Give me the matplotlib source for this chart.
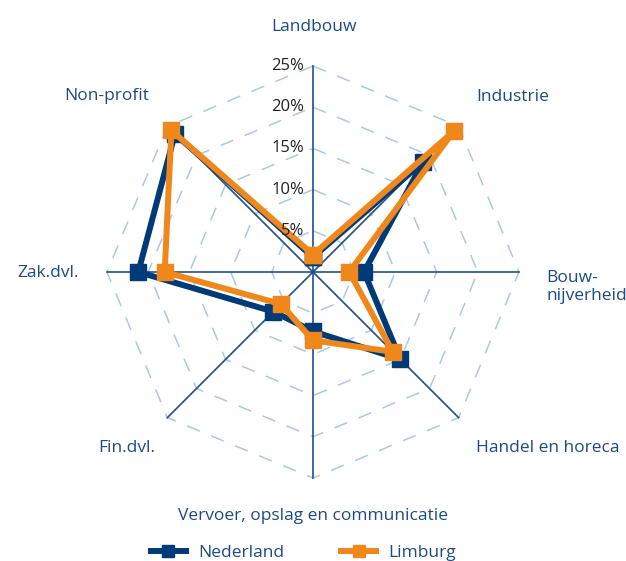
import numpy as np
import matplotlib.pyplot as plt
from matplotlib.lines import Line2D

# data: share per sector (%), clockwise from top
sectors = ['Landbouw', 'Industrie', 'Bouw-\nnijverheid', 'Handel en horeca',
           'Vervoer, opslag en communicatie', 'Fin.dvl.', 'Zak.dvl.', 'Non-profit']
nederland = [1.8, 18.9, 6.2, 15.0, 7.2, 6.8, 21.2, 23.7]
limburg = [2.1, 24.2, 4.4, 13.7, 8.3, 5.5, 18.0, 24.3]
rings = [5, 10, 15, 20, 25]
ring_labels = ['5%', '10%', '15%', '20%', '25%']

W, H = 626, 561
NL_COLOR = '#003a78'
LI_COLOR = '#f0871a'
AXIS_COLOR = '#1f4f8c'
GRID_COLOR = '#a9c9ea'
TEXT_COLOR = '#1d4a85'

plt.rcParams['font.family'] = ['Open Sans', 'DejaVu Sans']

fig = plt.figure(figsize=(W / 100, H / 100), dpi=100)
cx, cy, R = 313, 272, 206  # centre and outer radius in pixels
ax = fig.add_axes([(cx - R) / W, (H - cy - R) / H, 2 * R / W, 2 * R / H], projection='polar')
ax.set_theta_zero_location('N')
ax.set_theta_direction(-1)
ax.set_ylim(0, 25)
ax.axis('off')

n = len(sectors)
theta = np.arange(n) * 2 * np.pi / n
theta_c = np.append(theta, theta[0])

for r in rings:  # dashed octagons
    ax.plot(theta_c, [r] * (n + 1), color=GRID_COLOR, lw=1.1, ls=(0, (9, 8)), zorder=1, clip_on=False)
for t in theta:  # spokes
    ax.plot([t, t], [0, rings[-1]], color=AXIS_COLOR, lw=1.2, zorder=2, clip_on=False)

for vals, col in ((nederland, NL_COLOR), (limburg, LI_COLOR)):
    ax.plot(theta_c, vals + vals[:1], color=col, lw=4.3, marker='s', markersize=11,
            solid_joinstyle='miter', zorder=3, clip_on=False)

for r, lab in zip(rings, ring_labels):
    ax.annotate(lab, xy=(0, r), xytext=(-9, 0), textcoords='offset pixels',
                ha='right', va='center', fontsize=12, color='#222222')

# category label positions (pixels)
label_pos = [(314, 27, 'center'), (513, 97, 'center'), (546, 287, 'left'), (548, 448, 'center'),
             (313, 516, 'center'), (127, 448, 'center'), (48, 273, 'center'), (107, 96, 'center')]
for name, (x, y, ha) in zip(sectors, label_pos):
    fig.text(x / W, 1 - y / H, name, ha=ha, va='center', fontsize=12.5, color=TEXT_COLOR,
             linespacing=1.25)

handles = [Line2D([0], [0], color=NL_COLOR, lw=4.3, marker='s', markersize=9),
           Line2D([0], [0], color=LI_COLOR, lw=4.3, marker='s', markersize=9)]
leg = fig.legend(handles, ['Nederland', 'Limburg'], loc='center left',
                 bbox_to_anchor=(151 / W, 1 - 553 / H), ncol=2, frameon=False,
                 borderpad=0, borderaxespad=0, handlelength=2.0, handletextpad=0.7,
                 columnspacing=3.3, fontsize=12.5)
for t in leg.get_texts():
    t.set_color(TEXT_COLOR)

fig.savefig('out.png', dpi=100)
